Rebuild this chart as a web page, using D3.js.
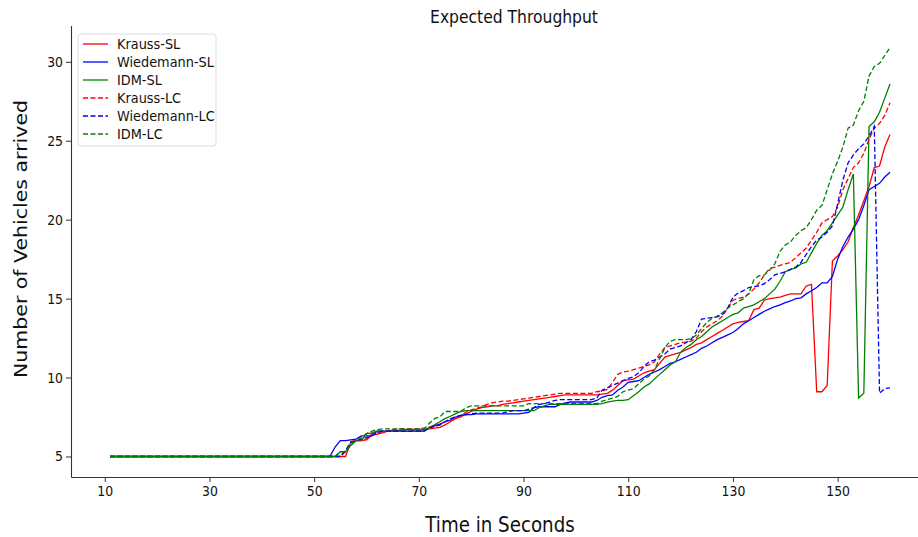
<!DOCTYPE html>
<html>
<head>
<meta charset="utf-8">
<script src="https://cdn.jsdelivr.net/npm/d3@7.9.0/dist/d3.min.js"></script>
<style>
  body { margin: 0; background: #fff; }
  svg { font-family: "DejaVu Sans", sans-serif; }
</style>
</head>
<body>
<div id="chart"></div>
<script>
const width = 918;
const height = 537;
const margin = { top: 25.5, right: -11, bottom: 60, left: 71 };
const squeeze = 0.89; // the reference picture is a bit narrower than tall

// time axis: one sample per second, 11..160
const seconds = d3.range(11, 161);
const xTicks = [10, 30, 50, 70, 90, 110, 130, 150];
const yTicks = [5, 10, 15, 20, 25, 30];

const flat = [5,5,5,5,5,5,5,5,5,5, 5,5,5,5,5,5,5,5,5,5, 5,5,5,5,5,5,5,5,5,5, 5,5,5,5,5,5,5,5,5,5, 5,5]; // t = 11..52

const kraussSL = flat.concat([
  5.0, 5.0, 5.0, 5.0, 5.9, 6.0, 6.0, 6.05, 6.35, 6.4,
  6.5, 6.6, 6.65, 6.65, 6.7, 6.7, 6.7, 6.7, 6.7, 6.75,
  6.8, 6.85, 7.0, 7.2, 7.4, 7.5, 7.7, 7.85, 8.0, 8.1,
  8.15, 8.2, 8.2, 8.3, 8.35, 8.4, 8.45, 8.5, 8.55, 8.6,
  8.65, 8.7, 8.75, 8.8, 8.85, 8.9, 8.9, 8.9, 8.9, 8.9,
  8.9, 8.9, 8.95, 9.0, 9.2, 9.5, 9.8, 9.85, 9.9, 10.1,
  10.3, 10.4, 10.5, 10.9, 11.3, 11.4, 11.5, 11.6, 11.75, 11.9,
  12.1, 12.2, 12.4, 12.6, 12.8, 13.0, 13.2, 13.4, 13.5, 13.55,
  13.6, 14.3, 14.4, 14.9, 15.0, 15.05, 15.1, 15.2, 15.3, 15.3,
  15.3, 15.8, 15.9, 9.1, 9.1, 9.5, 17.4, 17.7, 18.1, 18.6,
  19.5, 20.3, 21.2, 22.1, 23.3, 23.4, 24.6, 25.4
]);

const wiedemannSL = flat.concat([
  5.0, 5.6, 6.0, 6.0, 6.05, 6.1, 6.3, 6.3, 6.3, 6.6,
  6.6, 6.6, 6.6, 6.6, 6.6, 6.6, 6.6, 6.6, 6.6, 6.85,
  6.95, 7.05, 7.2, 7.3, 7.5, 7.6, 7.65, 7.65, 7.7, 7.7,
  7.7, 7.7, 7.7, 7.7, 7.7, 7.7, 7.7, 7.75, 7.8, 8.1,
  8.15, 8.15, 8.15, 8.15, 8.3, 8.4, 8.45, 8.45, 8.45, 8.45,
  8.45, 8.55, 8.75, 8.85, 8.9, 9.2, 9.4, 9.7, 9.75, 9.8,
  10.0, 10.2, 10.35, 10.5, 10.7, 10.9, 11.0, 11.15, 11.3, 11.45,
  11.6, 11.85, 12.0, 12.2, 12.4, 12.55, 12.7, 12.85, 13.1, 13.4,
  13.6, 13.8, 14.0, 14.2, 14.35, 14.5, 14.6, 14.75, 14.85, 15.0,
  15.05, 15.3, 15.5, 15.7, 16.0, 16.0, 16.4, 17.5, 18.3, 18.9,
  19.4, 20.0, 20.9, 21.9, 22.1, 22.3, 22.7, 23.0
]);

const idmSL = flat.concat([
  5.0, 5.0, 5.3, 5.3, 5.7, 6.0, 6.0, 6.45, 6.5, 6.6,
  6.6, 6.6, 6.6, 6.6, 6.6, 6.6, 6.6, 6.6, 6.6, 6.85,
  7.0, 7.2, 7.4, 7.55, 7.7, 7.85, 7.9, 7.9, 7.9, 7.9,
  7.9, 7.9, 7.9, 7.9, 7.9, 7.9, 7.9, 7.9, 7.9, 7.9,
  8.1, 8.2, 8.3, 8.3, 8.3, 8.3, 8.3, 8.3, 8.3, 8.3,
  8.3, 8.3, 8.35, 8.45, 8.5, 8.55, 8.55, 8.6, 8.85, 9.1,
  9.4, 9.6, 9.9, 10.2, 10.5, 10.8, 11.0, 11.6, 11.9, 12.1,
  12.4, 12.6, 12.9, 13.2, 13.4, 13.6, 13.8, 14.0, 14.1, 14.4,
  14.5, 14.6, 14.8, 15.0, 15.3, 15.6, 16.1, 16.7, 16.85, 16.95,
  17.2, 17.3, 17.9, 18.5, 19.0, 19.3, 19.8, 20.3, 20.8, 21.9,
  22.9, 8.7, 9.0, 25.9, 26.2, 26.8, 27.7, 28.6
]);

const kraussLC = flat.concat([
  5.0, 5.0, 5.0, 5.3, 5.95, 6.0, 6.05, 6.1, 6.45, 6.5,
  6.5, 6.6, 6.7, 6.75, 6.75, 6.75, 6.75, 6.75, 6.8, 6.85,
  6.9, 7.0, 7.2, 7.3, 7.45, 7.6, 7.8, 7.95, 8.05, 8.15,
  8.3, 8.4, 8.45, 8.5, 8.5, 8.55, 8.6, 8.65, 8.7, 8.75,
  8.8, 8.85, 8.9, 8.95, 9.0, 9.0, 9.0, 9.0, 9.0, 9.0,
  9.0, 9.1, 9.15, 9.25, 9.7, 10.2, 10.35, 10.4, 10.5, 10.6,
  10.7, 10.8, 11.0, 11.5, 11.9, 12.0, 12.1, 12.2, 12.25, 12.3,
  12.5, 12.9, 13.2, 13.4, 13.6, 13.9, 14.4, 14.9, 15.0, 15.1,
  15.3, 15.6, 16.0, 16.5, 16.9, 17.0, 17.1, 17.2, 17.3, 17.6,
  17.9, 18.2, 18.7, 19.2, 19.8, 20.0, 20.2, 20.8, 21.9, 22.6,
  23.3, 23.6, 24.2, 25.1, 25.8, 26.1, 26.6, 27.4
]);

const wiedemannLC = flat.concat([
  5.0, 5.0, 5.0, 5.4, 5.9, 6.0, 6.1, 6.2, 6.3, 6.5,
  6.6, 6.6, 6.6, 6.6, 6.6, 6.6, 6.6, 6.6, 6.6, 6.8,
  6.9, 7.0, 7.2, 7.4, 7.5, 7.6, 7.65, 7.7, 7.75, 7.75,
  7.75, 7.75, 7.75, 7.75, 7.85, 7.9, 7.9, 7.9, 8.0, 8.1,
  8.3, 8.35, 8.45, 8.55, 8.6, 8.6, 8.6, 8.6, 8.6, 8.6,
  8.6, 8.7, 9.2, 9.35, 9.5, 9.65, 9.8, 9.95, 10.05, 10.3,
  10.7, 11.0, 11.1, 11.3, 11.5, 11.8, 11.9, 12.0, 12.2, 12.4,
  12.9, 13.7, 13.75, 13.8, 13.85, 14.0, 14.4, 15.1, 15.35, 15.5,
  15.7, 15.75, 15.8, 15.95, 16.2, 16.5, 16.6, 16.7, 16.85, 17.0,
  17.3, 17.8, 18.3, 18.7, 18.9, 19.2, 19.6, 21.0, 22.5, 23.6,
  24.1, 24.5, 24.8, 25.3, 25.9, 9.0, 9.3, 9.35
]);

const idmLC = flat.concat([
  5.0, 5.0, 5.3, 5.3, 5.8, 6.0, 6.2, 6.45, 6.6, 6.7,
  6.75, 6.75, 6.75, 6.75, 6.75, 6.75, 6.75, 6.75, 6.75, 7.1,
  7.4, 7.5, 7.85, 7.85, 7.85, 7.85, 8.1, 8.2, 8.2, 8.2,
  8.2, 8.2, 8.2, 8.2, 8.2, 8.2, 8.2, 8.2, 8.35, 8.35,
  8.35, 8.35, 8.35, 8.35, 8.35, 8.35, 8.35, 8.35, 8.35, 8.35,
  8.35, 8.35, 8.5, 8.6, 8.7, 8.8, 9.1, 9.2, 9.3, 9.6,
  9.9, 10.1, 10.5, 11.2, 11.9, 12.3, 12.4, 12.4, 12.4, 12.45,
  12.7, 13.1, 13.5, 13.75, 13.9, 14.1, 14.4, 14.6, 14.8, 15.0,
  15.3, 16.2, 16.45, 16.5, 16.8, 17.2, 18.0, 18.4, 18.6, 19.0,
  19.3, 19.5, 20.0, 20.6, 20.9, 21.9, 22.9, 23.7, 24.6, 25.8,
  26.0, 26.9, 27.5, 29.1, 29.7, 29.9, 30.4, 30.9
]);

const seriesNames = ["Krauss-SL", "Wiedemann-SL", "IDM-SL", "Krauss-LC", "Wiedemann-LC", "IDM-LC"];
const seriesValues = [kraussSL, wiedemannSL, idmSL, kraussLC, wiedemannLC, idmLC];
const seriesColors = ["#ff0000", "#0000ff", "#008000", "#ff0000", "#0000ff", "#008000"];
const seriesDashed = [false, false, false, true, true, true];

const svg = d3.select("#chart")
  .append("svg")
  .attr("width", width)
  .attr("height", height);

const xScale = d3.scaleLinear()
  .domain([3.55, 167.45])
  .range([margin.left, width - margin.right]);

const yScale = d3.scaleLinear()
  .domain([3.7, 32.3])
  .range([height - margin.bottom, margin.top]);

// Axes
const xAxis = svg.append("g")
  .attr("transform", `translate(0, ${height - margin.bottom})`)
  .call(d3.axisBottom(xScale).tickValues(xTicks).tickSize(5).tickSizeOuter(0).tickPadding(4));

const yAxis = svg.append("g")
  .attr("transform", `translate(${margin.left}, 0)`)
  .call(d3.axisLeft(yScale).tickValues(yTicks).tickSize(5).tickSizeOuter(0).tickPadding(4));

[xAxis, yAxis].forEach(g => {
  g.select(".domain").attr("stroke", "#333").attr("stroke-width", 1.1);
  g.selectAll(".tick line").attr("stroke", "#333");
  g.selectAll(".tick text").attr("font-size", 14).attr("fill", "#111")
    .attr("font-family", "DejaVu Sans, sans-serif")
    .attr("transform", `scale(${squeeze},1)`);
});

// Lines
const line = d3.line()
  .x((d, i) => xScale(seconds[i]))
  .y(d => yScale(d));

seriesValues.forEach((vals, k) => {
  svg.append("path")
    .datum(vals)
    .attr("fill", "none")
    .attr("stroke", seriesColors[k])
    .attr("stroke-width", 1.3)
    .attr("stroke-dasharray", seriesDashed[k] ? "5,2.5" : null)
    .attr("d", line);
});

// Titles
svg.append("text")
  .attr("transform", `translate(514, 23) scale(${squeeze},1)`)
  .attr("text-anchor", "middle")
  .attr("font-size", 17.5)
  .attr("fill", "#111")
  .text("Expected Throughput");

svg.append("text")
  .attr("transform", `translate(500, 532) scale(${squeeze},1)`)
  .attr("text-anchor", "middle")
  .attr("font-size", 20.5)
  .attr("fill", "#111")
  .text("Time in Seconds");

svg.append("text")
  .attr("transform", `translate(27, 239) rotate(-90) scale(1,${squeeze})`)
  .attr("text-anchor", "middle")
  .attr("font-size", 20.5)
  .attr("fill", "#111")
  .text("Number of Vehicles arrived");

// Legend
const legend = svg.append("g").attr("transform", "translate(78, 34)");
legend.append("rect")
  .attr("width", 138)
  .attr("height", 112)
  .attr("rx", 3)
  .attr("fill", "#fff")
  .attr("fill-opacity", 0.8)
  .attr("stroke", "#ddd");

seriesNames.forEach((name, k) => {
  const yy = 10 + k * 18;
  legend.append("line")
    .attr("x1", 5).attr("x2", 30)
    .attr("y1", yy).attr("y2", yy)
    .attr("stroke", seriesColors[k])
    .attr("stroke-width", 1.3)
    .attr("stroke-dasharray", seriesDashed[k] ? "5,2.5" : null);
  legend.append("text")
    .attr("transform", `translate(39, ${yy + 5}) scale(${squeeze},1)`)
    .attr("font-size", 14.5)
    .attr("fill", "#111")
    .text(name);
});
</script>
</body>
</html>
